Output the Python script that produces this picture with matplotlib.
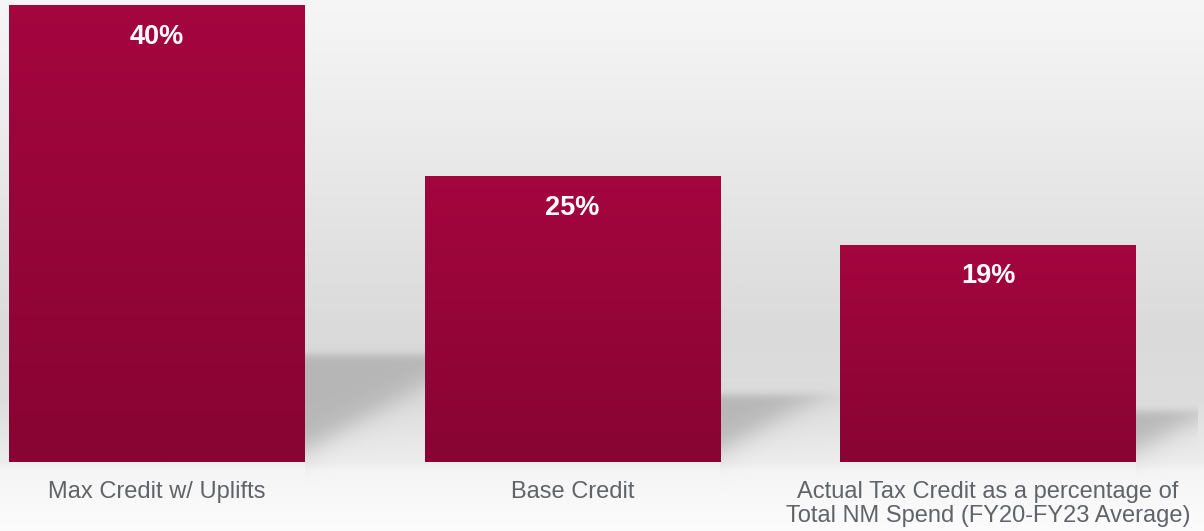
import numpy as np
import matplotlib.pyplot as plt
from matplotlib.colors import LinearSegmentedColormap

categories = ["Max Credit w/ Uplifts", "Base Credit",
              "Actual Tax Credit as a percentage of\nTotal NM Spend (FY20-FY23 Average)"]
values = [40, 25, 19]
value_labels = ["40%", "25%", "19%"]

plt.rcParams['font.family'] = ['Liberation Sans', 'DejaVu Sans']

W, H = 1204, 531
fig = plt.figure(figsize=(W / 100, H / 100), dpi=100)
ax = fig.add_axes([0, 0, 1, 1])
xlim = (-0.378, 2.52)
ylim = (-6.04, 40.46)
bar_width = 0.712
panel_right = 2.505  # right edge of the grey backdrop, in data units

# background gradient (rows from the top of the figure)
rows = np.arange(H)
g = np.interp(rows, [0, 150, 330, 400, 462, 470, 531],
              [246, 234, 218, 221, 237, 245, 252]) / 255
bg = np.ones((H, W, 3)) * g[:, None, None]

# soft shadows cast to the right of each bar, from the bar geometry
ax.set_xlim(*xlim)
ax.set_ylim(*ylim)
X, Y = np.meshgrid(np.arange(W) + 0.5, H - (np.arange(H) + 0.5))
(_, base), = ax.transData.transform([(0, 0)])
(pr, _), = ax.transData.transform([(panel_right, 0)])


def sig(z):
    return 1 / (1 + np.exp(-z))


shade = np.zeros((H, W))
slope = 0.55
for i, v in enumerate(values):
    (xr, top), = ax.transData.transform([(i + bar_width / 2, v)])
    hs = base + 0.235 * (top - base)
    y0 = base + 12
    diag = y0 + slope * (X - xr)
    a = sig((hs - Y) / 2.5) * sig((Y - diag) / np.sqrt(1 + slope ** 2) / 7)
    a *= (X > xr) * (X < pr)
    shade = np.maximum(shade, a)
img = bg * (1 - shade[..., None] * 0.85) + 0.69 * 0.85 * shade[..., None]
ax.imshow(img, extent=(0, 1, 0, 1), transform=ax.transAxes, aspect='auto',
          zorder=0, origin='upper')

# gradient bars
bar_cmap = LinearSegmentedColormap.from_list('crimson', ['#880432', '#A4063E'])
bars = ax.bar(range(len(values)), values, width=bar_width, color='none',
              edgecolor='none', zorder=2)
grad = np.linspace(0, 1, 256)[:, None]
for b in bars:
    x0, w, h = b.get_x(), b.get_width(), b.get_height()
    ax.imshow(grad, extent=(x0, x0 + w, 0, h), origin='lower', cmap=bar_cmap,
              aspect='auto', zorder=2)

for i, v in enumerate(values):
    ax.annotate(value_labels[i], (i, v), xytext=(0, -22.5),
                textcoords='offset points', ha='center', va='center',
                color='white', fontsize=19.5, fontweight='bold')
    ax.annotate(categories[i], (i, 0), xytext=(0, -13.7),
                textcoords='offset points', ha='center', va='top',
                color='#606368', fontsize=17, linespacing=1.14)

ax.set_xlim(*xlim)
ax.set_ylim(*ylim)
ax.axis('off')
fig.savefig('out.png', dpi=100)
